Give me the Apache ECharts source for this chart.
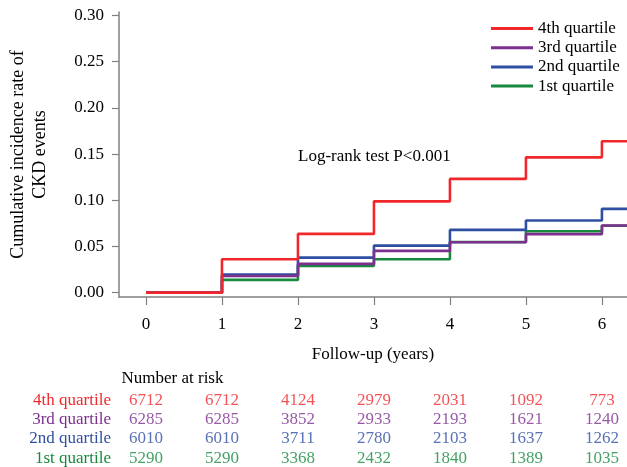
<!DOCTYPE html>
<html>
<head>
<meta charset="utf-8">
<script src="https://cdn.jsdelivr.net/npm/echarts@6/dist/echarts.min.js"></script>
<style>
html,body{margin:0;padding:0;background:#fff;}
#c{width:627px;height:467px;}
</style>
</head>
<body>
<div id="c"></div>
<script>
// ---- data ----
const years = [0, 1, 2, 3, 4, 5, 6];
const groupNames = ['4th quartile', '3rd quartile', '2nd quartile', '1st quartile'];
const q4 = [0, 0.0362, 0.0636, 0.0988, 0.1231, 0.1464, 0.1638];
const q3 = [0, 0.0181, 0.0311, 0.0452, 0.0545, 0.0633, 0.0726];
const q2 = [0, 0.0195, 0.0379, 0.0509, 0.0679, 0.0780, 0.0907];
const q1 = [0, 0.0138, 0.0289, 0.0362, 0.0548, 0.0665, 0.0724];
const risk4 = [6712, 6712, 4124, 2979, 2031, 1092, 773];
const risk3 = [6285, 6285, 3852, 2933, 2193, 1621, 1240];
const risk2 = [6010, 6010, 3711, 2780, 2103, 1637, 1262];
const risk1 = [5290, 5290, 3368, 2432, 1840, 1389, 1035];
const yTicks = [0, 0.05, 0.10, 0.15, 0.20, 0.25, 0.30];

// ---- styling / layout ----
const FONT = 'Liberation Serif';
const FS = 17;
const colors = { q4: '#f0282c', q3: '#7d2f8e', q2: '#2f4fa2', q1: '#178a3e' };
const textColors = ['#f0282c', '#7d2f8e', '#2f4fa2', '#178a3e'];
const XMIN = -0.355, XMAX = 6.33;
const YMIN = -0.0047, YMAX = 0.3037;

function stepData(vals) {
  const d = years.map((y, i) => [y, vals[i]]);
  d.push([XMAX, vals[vals.length - 1]]);
  return d;
}
function lineSeries(name, vals, color) {
  return {
    name, type: 'line', xAxisIndex: 0, yAxisIndex: 0,
    step: 'end', data: stepData(vals), showSymbol: false, symbol: 'none',
    lineStyle: { color, width: 2.6 }, itemStyle: { color },
    animation: false, clip: true
  };
}
function riskSeries(rowIdx, vals, color) {
  return {
    type: 'scatter', xAxisIndex: 1, yAxisIndex: 1,
    data: years.map((y, i) => [y, rowIdx, vals[i]]),
    symbolSize: 1, itemStyle: { color: 'transparent' },
    label: { show: true, position: 'inside', formatter: p => String(p.value[2]),
             color, fontFamily: FONT, fontSize: FS },
    silent: true, animation: false
  };
}

const chart = echarts.init(document.getElementById('c'), null, { renderer: 'canvas' });
chart.setOption({
  backgroundColor: '#fff',
  animation: false,
  textStyle: { fontFamily: FONT },
  grid: [
    { left: 119, right: 0, top: 12, bottom: 170, containLabel: false, outerBoundsMode: 'none' },
    { left: 119, right: 0, top: 391, height: 76.8, containLabel: false, outerBoundsMode: 'none' }
  ],
  legend: {
    data: groupNames, orient: 'vertical', left: 491, top: 20, padding: 0,
    icon: 'rect', itemWidth: 42, itemHeight: 3, itemGap: 2.2,
    textStyle: { fontFamily: FONT, fontSize: FS, color: '#000', lineHeight: 17 },
    selectedMode: false
  },
  xAxis: [
    {
      type: 'value', gridIndex: 0, min: XMIN, max: XMAX,
      name: 'Follow-up (years)', nameLocation: 'middle', nameGap: 49,
      nameTextStyle: { fontFamily: FONT, fontSize: FS, color: '#000' },
      axisLine: { show: true, onZero: false, lineStyle: { color: '#808080', width: 1.5 } },
      axisTick: { show: true, customValues: years, length: 8, lineStyle: { color: '#808080', width: 1.2 } },
      axisLabel: { customValues: years, fontFamily: FONT, fontSize: FS, color: '#000', margin: 19 },
      splitLine: { show: false }
    },
    {
      type: 'value', gridIndex: 1, min: XMIN, max: XMAX, show: false
    }
  ],
  yAxis: [
    {
      type: 'value', gridIndex: 0, min: YMIN, max: YMAX,
      name: 'Cumulative incidence rate of\nCKD events', nameLocation: 'middle', nameGap: 68, nameRotate: 90,
      nameTextStyle: { fontFamily: FONT, fontSize: 18, color: '#000', lineHeight: 22 },
      axisLine: { show: true, onZero: false, lineStyle: { color: '#808080', width: 1.5 } },
      axisTick: { show: true, customValues: yTicks, length: 7, lineStyle: { color: '#808080', width: 1.2 } },
      axisLabel: { customValues: yTicks, formatter: v => Number(v).toFixed(2), fontFamily: FONT, fontSize: FS, color: '#000', margin: 15 },
      splitLine: { show: false }
    },
    {
      type: 'category', gridIndex: 1, data: groupNames, inverse: true,
      axisLine: { show: false }, axisTick: { show: false }, splitLine: { show: false },
      axisLabel: { interval: 0, fontFamily: FONT, fontSize: FS, margin: 8,
                   color: v => textColors[groupNames.indexOf(v)] }
    }
  ],
  graphic: [
    { type: 'text', left: 121.5, top: 370, silent: true,
      style: { text: 'Number at risk', fontFamily: FONT, fontSize: FS, fill: '#000' } },
    { type: 'text', left: 298, top: 148, silent: true,
      style: { text: 'Log-rank test P<0.001', fontFamily: FONT, fontSize: FS, fill: '#000' } }
  ],
  series: [
    lineSeries('1st quartile', q1, colors.q1),
    lineSeries('2nd quartile', q2, colors.q2),
    lineSeries('3rd quartile', q3, colors.q3),
    lineSeries('4th quartile', q4, colors.q4),
    riskSeries(0, risk4, textColors[0]),
    riskSeries(1, risk3, textColors[1]),
    riskSeries(2, risk2, textColors[2]),
    riskSeries(3, risk1, textColors[3])
  ]
});
</script>
</body>
</html>
